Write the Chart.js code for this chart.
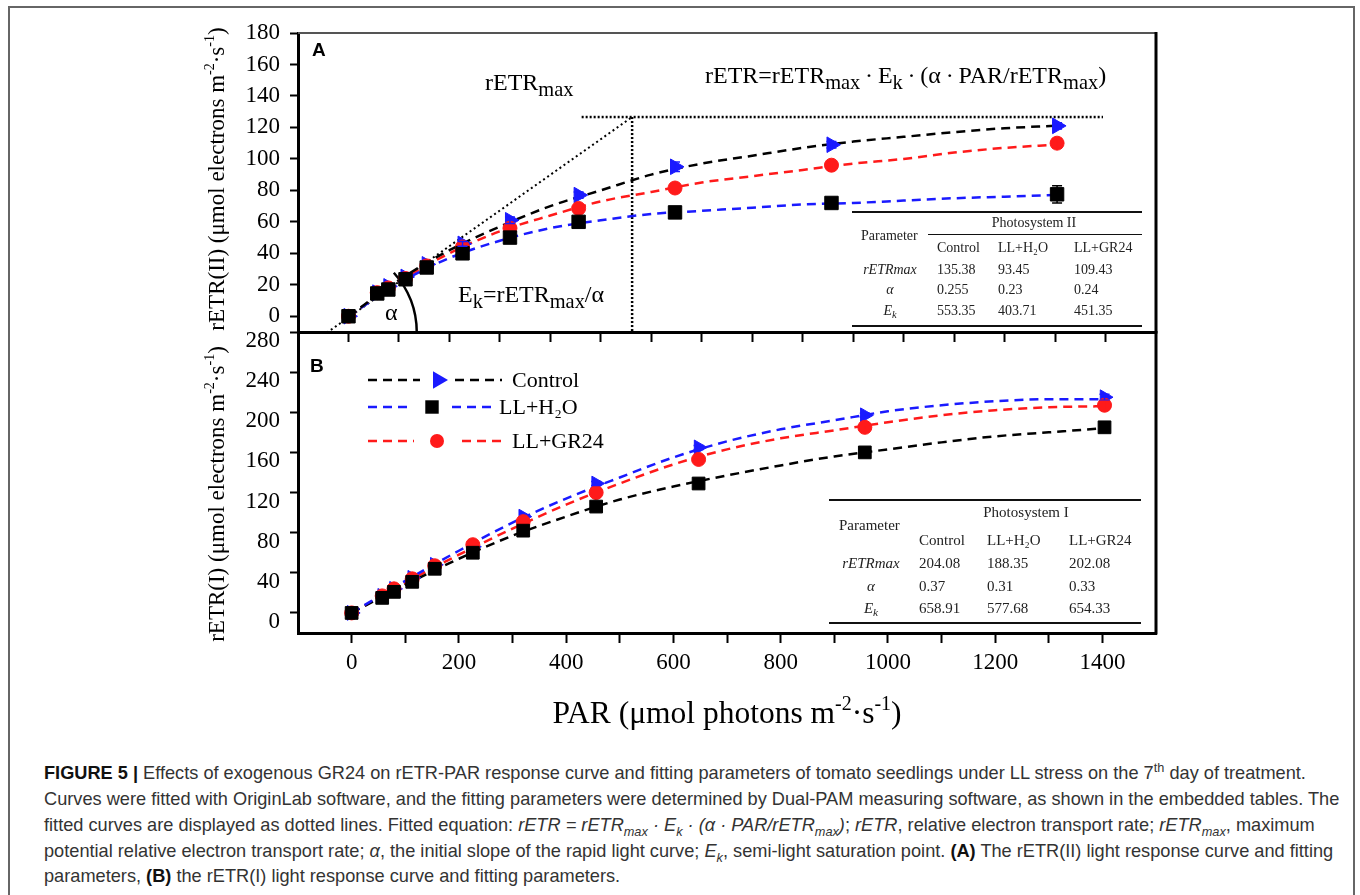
<!DOCTYPE html>
<html>
<head>
<meta charset="utf-8">
<title>rETR-PAR response curves</title>
<script src="https://cdn.jsdelivr.net/npm/chart.js@4.4.1/dist/chart.umd.min.js"></script>
<style>
  html, body { margin: 0; padding: 0; background: #fff; }
  body { position: relative; width: 1360px; height: 895px; overflow: hidden;
         font-family: "Liberation Serif", "DejaVu Serif", serif; color: #000; }
  #frame { position: absolute; left: 8px; top: 6px; width: 1343px; height: 910px; border: 2px solid #666; }
  canvas { position: absolute; left: 0; }
  #chartA { top: 0; z-index: 2; }
  #chartB { top: 300px; z-index: 1; }
  .lbl { position: absolute; white-space: nowrap; line-height: 1; z-index: 3; }
  .lbl sub { font-size: 0.85em; vertical-align: -0.3em; line-height: 0; }
  .panel { font-family: "Liberation Sans", Arial, sans-serif; font-weight: bold; font-size: 19px; }
  .eq { font-size: 24px; }
  .tb { position: absolute; white-space: nowrap; line-height: 1; color: #222; z-index: 3; }
  .tb sub { font-size: 0.75em; vertical-align: -0.25em; line-height: 0; }
  .rule { position: absolute; background: #111; z-index: 3; }
  .cap { position: absolute; left: 44px; white-space: nowrap; line-height: 1;
         font-family: "Liberation Sans", Arial, sans-serif; font-size: 18.2px; color: #333; }
  .cap sub, .cap sup { font-size: 0.7em; line-height: 0; }
  .cap b { color: #111; }
</style>
</head>
<body>
<div id="frame"></div>
<canvas id="chartA" width="1360" height="360"></canvas>
<canvas id="chartB" width="1360" height="440"></canvas>

<div class="lbl panel" style="left:312px;top:40px">A</div>
<div class="lbl panel" style="left:310px;top:356px">B</div>
<div class="lbl eq" style="left:485px;top:70px">rETR<sub>max</sub></div>
<div class="lbl eq" style="left:705px;top:63px">rETR=rETR<sub>max</sub>&thinsp;·&thinsp;E<sub>k</sub>&thinsp;·&thinsp;(α&thinsp;·&thinsp;PAR/rETR<sub>max</sub>)</div>
<div class="lbl eq" style="left:458px;top:282px">E<sub>k</sub>=rETR<sub>max</sub>/α</div>
<div class="lbl eq" style="left:385px;top:300px">α</div>

<div id="tables"></div>

<div class="cap" style="top:764px"><b>FIGURE 5 |</b> Effects of exogenous GR24 on rETR-PAR response curve and fitting parameters of tomato seedlings under LL stress on the 7<sup>th</sup> day of treatment.</div>
<div class="cap" style="top:790px">Curves were fitted with OriginLab software, and the fitting parameters were determined by Dual-PAM measuring software, as shown in the embedded tables. The</div>
<div class="cap" style="top:816px">fitted curves are displayed as dotted lines. Fitted equation: <i>rETR = rETR<sub>max</sub> · E<sub>k</sub> · (α · PAR/rETR<sub>max</sub>)</i>; <i>rETR</i>, relative electron transport rate; <i>rETR<sub>max</sub></i>, maximum</div>
<div class="cap" style="top:842px">potential relative electron transport rate; <i>α</i>, the initial slope of the rapid light curve; <i>E<sub>k</sub></i>, semi-light saturation point. <b>(A)</b> The rETR(II) light response curve and fitting</div>
<div class="cap" style="top:867px">parameters, <b>(B)</b> the rETR(I) light response curve and fitting parameters.</div>

<script>
'use strict';

// light steps used in the measurement (same for both panels)
const par = [0, 57, 79, 113, 155, 226, 320, 456, 647, 957, 1404];
const parFit = [0, 100, 200, 300, 400, 500, 600, 700, 800, 900, 1000, 1100, 1200, 1300, 1400];
const seriesNames = ['Control', 'LL+H₂O', 'LL+GR24'];

// panel A  rETR(II)
const ctrlA = [0, 15, 19, 25, 33, 46, 61, 77, 95, 109, 121];
const h2oA  = [0, 14.5, 17, 23.5, 31, 40, 50, 60, 66, 72, 77.5];
const gr24A = [0, 15, 18, 24, 32, 44, 56, 68.5, 81.5, 96, 110];
const ctrlErrA = [0, 0, 0, 0, 0, 1.5, 2, 2, 3, 2, 2];
const h2oErrA  = [0, 0, 0, 0, 0, 0, 0, 0, 0, 0, 5.5];
const gr24ErrA = [0, 0, 0, 0, 0, 0, 0, 0, 0, 2, 3];
const ctrlFitA = [0, 23, 42, 57, 70, 80, 90, 97, 102, 107, 111, 114, 117, 119.5, 121];
const h2oFitA  = [0, 21, 37, 48, 56, 61, 65, 67, 69, 71, 72, 73.5, 75, 76, 77];
const gr24FitA = [0, 22, 40, 54, 64, 73, 79, 85, 89, 93, 97, 100, 104, 107, 109];

// panel B  rETR(I)
const ctrlB = [0, 17, 24, 35, 48, 66, 96, 129, 165, 197, 215];
const h2oB  = [0, 15, 21, 31, 44, 60, 82, 106, 129, 160, 185];
const gr24B = [0, 17, 24, 34, 47, 68, 91, 120, 153, 185, 207];
const ctrlErrB = [0, 0, 0, 0, 0, 0, 0, 2, 2, 2, 3];
const h2oErrB  = [0, 0, 0, 0, 0, 0, 0, 0, 0, 0, 0];
const gr24ErrB = [0, 0, 0, 0, 0, 0, 0, 0, 2, 2, 4];
const ctrlFitB = [0, 32, 62, 90, 114, 135, 155, 171, 183, 192, 201, 207, 211, 213, 213];
const h2oFitB  = [0, 28, 54, 77, 96, 113, 126, 137, 147, 156, 163, 170, 176, 180, 184];
const gr24FitB = [0, 30, 58, 84, 108, 129, 148, 163, 174, 182, 190, 197, 202, 205, 206];

// ticks
const xTicksA = [0, 100, 200, 300, 400, 500, 600, 700, 800, 900, 1000, 1100, 1200, 1300, 1400, 1500];
const yTicksA = [0, 20, 40, 60, 80, 100, 120, 140, 160, 180];
const xTicksB = [0, 100, 200, 300, 400, 500, 600, 700, 800, 900, 1000, 1100, 1200, 1300, 1400];
const xLabelsB = [0, 200, 400, 600, 800, 1000, 1200, 1400];
const yTicksB = [0, 20, 40, 60, 80, 100, 120, 140, 160, 180, 200, 220, 240, 260, 280];
const yLabelsB = [0, 40, 80, 120, 160, 200, 240, 280];

// axis titles: plain text pieces, arrays are superscripts
const yTitleA = ['rETR(II) (μmol electrons m', ['-2'], '·s', ['-1'], ')'];
const yTitleB = ['rETR(I) (μmol electrons m', ['-2'], '·s', ['-1'], ')'];
const xTitleB = ['PAR (μmol photons m', ['-2'], '·s', ['-1'], ')'];

// fitting-parameter tables
const tableParams = ['<i>rETRmax</i>', '<i>α</i>', '<i>E<sub>k</sub></i>'];
const psIIValues = [['135.38', '93.45', '109.43'], ['0.255', '0.23', '0.24'], ['553.35', '403.71', '451.35']];
const psIValues  = [['204.08', '188.35', '202.08'], ['0.37', '0.31', '0.33'], ['658.91', '577.68', '654.33']];

// construction lines of panel A (data units)
const tangentA  = [[-43, -10.5], [562, 126.6]];
const rmaxLineA = [[462, 126.6], [1495, 126.6]];
const ekLineA   = [[562, 126.6], [562, -10]];

const FONT = '"Liberation Serif", "DejaVu Serif", serif';
const BLACK = '#000000';
const BLUE = '#1a1aff';
const RED = '#ff1a1a';

Chart.defaults.font.family = FONT;

function pts(xs, ys) {
  return ys.map((v, i) => ({ x: xs[i], y: v }));
}

function fitSet(ys, color) {
  return {
    data: pts(parFit, ys), showLine: true, borderColor: color, borderWidth: 2.5,
    borderDash: [9, 6], pointRadius: 0, cubicInterpolationMode: 'monotone', order: 10,
  };
}

function markSet(label, ys, errs, style, color, r, order) {
  return {
    label, data: pts(par, ys), showLine: false, pointStyle: style, pointRadius: r,
    pointRotation: style === 'triangle' ? 90 : 0, backgroundColor: color, borderColor: color,
    borderWidth: 1, errors: errs, order,
  };
}

function drawMarker(ctx, style, x, y, r, color) {
  ctx.fillStyle = color;
  ctx.beginPath();
  if (style === 'triangle') {
    ctx.moveTo(x + r, y);
    ctx.lineTo(x - r / 2, y - r * 0.866);
    ctx.lineTo(x - r / 2, y + r * 0.866);
    ctx.closePath();
  } else if (style === 'rect') {
    const s = r * 0.707;
    ctx.rect(x - s, y - s, 2 * s, 2 * s);
  } else {
    ctx.arc(x, y, r, 0, Math.PI * 2);
  }
  ctx.fill();
}

// text with raised small pieces, centred on (x, y)
function drawRich(ctx, parts, x, y, size, vertical) {
  const big = size + 'px ' + FONT;
  const small = Math.round(size * 0.62) + 'px ' + FONT;
  let total = 0;
  parts.forEach(p => {
    ctx.font = Array.isArray(p) ? small : big;
    total += ctx.measureText(Array.isArray(p) ? p[0] : p).width;
  });
  ctx.save();
  ctx.translate(x, y);
  if (vertical) ctx.rotate(-Math.PI / 2);
  ctx.fillStyle = '#000';
  ctx.textBaseline = 'alphabetic';
  let cx = -total / 2;
  const base = size * 0.33;
  parts.forEach(p => {
    const sup = Array.isArray(p);
    const t = sup ? p[0] : p;
    ctx.font = sup ? small : big;
    ctx.fillText(t, cx, sup ? base - size * 0.42 : base);
    cx += ctx.measureText(t).width;
  });
  ctx.restore();
}

const titlePlugin = {
  id: 'richTitles',
  afterDraw(chart, args, opts) {
    (opts.items || []).forEach(it => drawRich(chart.ctx, it.parts, it.x, it.y, it.size, it.vertical));
  }
};

const errorBarPlugin = {
  id: 'errorBars',
  afterDatasetsDraw(chart) {
    const { ctx, scales: { x, y } } = chart;
    chart.data.datasets.forEach(ds => {
      if (!ds.errors) return;
      ctx.save();
      ctx.strokeStyle = ds.borderColor;
      ctx.lineWidth = 1.5;
      ds.data.forEach((p, i) => {
        const e = ds.errors[i];
        if (!e) return;
        const px = x.getPixelForValue(p.x);
        const top = y.getPixelForValue(p.y + e);
        const bot = y.getPixelForValue(p.y - e);
        ctx.beginPath();
        ctx.moveTo(px, top); ctx.lineTo(px, bot);
        ctx.moveTo(px - 5, top); ctx.lineTo(px + 5, top);
        ctx.moveTo(px - 5, bot); ctx.lineTo(px + 5, bot);
        ctx.stroke();
      });
      ctx.restore();
    });
  }
};

const framePlugin = {
  id: 'frame',
  afterDraw(chart, args, opts) {
    const { ctx, chartArea: a } = chart;
    ctx.save();
    if (opts.top) {
      ctx.strokeStyle = opts.top;
      ctx.lineWidth = 2;
      ctx.beginPath(); ctx.moveTo(a.left, a.top); ctx.lineTo(a.right, a.top); ctx.stroke();
    }
    ctx.strokeStyle = '#000';
    ctx.lineWidth = 3;
    ctx.beginPath(); ctx.moveTo(a.right, a.top - 1); ctx.lineTo(a.right, a.bottom + 1.5); ctx.stroke();
    ctx.restore();
  }
};

const guidePlugin = {
  id: 'guides',
  beforeDatasetsDraw(chart) {
    const { ctx, chartArea: a, scales: { x, y } } = chart;
    const px = p => [x.getPixelForValue(p[0]), y.getPixelForValue(p[1])];
    const seg = line => {
      const p0 = px(line[0]), p1 = px(line[1]);
      ctx.beginPath(); ctx.moveTo(p0[0], p0[1]); ctx.lineTo(p1[0], p1[1]); ctx.stroke();
    };
    ctx.save();
    ctx.beginPath();
    ctx.rect(a.left, a.top, a.right - a.left, a.bottom - a.top);
    ctx.clip();
    ctx.strokeStyle = '#000';
    ctx.setLineDash([2, 3]);
    ctx.lineWidth = 2;
    seg(tangentA);
    ctx.setLineDash([2, 2]);
    ctx.lineWidth = 2.5;
    seg(rmaxLineA);
    seg(ekLineA);
    // angle mark for alpha
    const c = px(tangentA[0]);
    ctx.setLineDash([]);
    ctx.lineWidth = 2.5;
    ctx.beginPath();
    ctx.arc(c[0], c[1], 90, -0.73, 0);
    ctx.stroke();
    ctx.restore();
  }
};

const legendPlugin = {
  id: 'inlineLegend',
  afterDraw(chart, args, opts) {
    const ctx = chart.ctx;
    ctx.save();
    opts.rows.forEach(r => {
      ctx.strokeStyle = r.line;
      ctx.lineWidth = 2.5;
      ctx.setLineDash([9, 6]);
      ctx.beginPath();
      ctx.moveTo(368, r.y); ctx.lineTo(r.gap[0], r.y);
      ctx.moveTo(r.gap[1], r.y); ctx.lineTo(r.end, r.y);
      ctx.stroke();
      ctx.setLineDash([]);
      drawMarker(ctx, r.style, r.mx, r.y, r.size, r.fill);
      ctx.fillStyle = '#000';
      ctx.font = '22px ' + FONT;
      ctx.textBaseline = 'middle';
      ctx.fillText(r.label, r.tx, r.y + 1);
    });
    ctx.restore();
  }
};

function yScale(min, max, ticks, labels, labelOffset) {
  return {
    type: 'linear', min, max,
    afterBuildTicks: s => { s.ticks = ticks.map(v => ({ value: v })); },
    afterFit: s => { s.width = 95; },
    ticks: {
      color: '#000', padding: 10, labelOffset, font: { family: FONT, size: 23 },
      callback: v => labels.includes(v) ? String(v) : '',
    },
    grid: {
      drawOnChartArea: false, tickLength: 8, tickColor: '#000',
      tickWidth: c => (c.tick && labels.includes(c.tick.value)) ? 2 : 1.5,
    },
    border: { color: '#000', width: 3 },
  };
}

new Chart(document.getElementById('chartA'), {
  type: 'scatter',
  data: {
    datasets: [
      fitSet(ctrlFitA, BLACK),
      fitSet(h2oFitA, BLUE),
      fitSet(gr24FitA, RED),
      markSet(seriesNames[0], ctrlA, ctrlErrA, 'triangle', BLUE, 9, 3),
      markSet(seriesNames[2], gr24A, gr24ErrA, 'circle', RED, 7, 2),
      markSet(seriesNames[1], h2oA, h2oErrA, 'rect', BLACK, 9.5, 1),
    ]
  },
  options: {
    responsive: false,
    animation: false,
    layout: { padding: { left: 203, right: 204, top: 33, bottom: 16 } },
    plugins: {
      legend: { display: false },
      tooltip: { enabled: false },
      frame: { top: '#555' },
      richTitles: { items: [{ parts: yTitleA, x: 216, y: 179, size: 23, vertical: true }] },
    },
    scales: {
      x: {
        type: 'linear', min: -100, max: 1600,
        afterBuildTicks: s => { s.ticks = xTicksA.map(v => ({ value: v })); },
        afterFit: s => { s.height = 12; },
        ticks: { display: false },
        grid: { drawOnChartArea: false, tickLength: 10, tickWidth: 2, tickColor: '#000' },
        border: { color: '#000', width: 3 },
      },
      y: yScale(-10, 180, yTicksA, yTicksA, 0),
    }
  },
  plugins: [guidePlugin, errorBarPlugin, framePlugin, titlePlugin]
});

new Chart(document.getElementById('chartB'), {
  type: 'scatter',
  data: {
    datasets: [
      fitSet(ctrlFitB, BLUE),
      fitSet(h2oFitB, BLACK),
      fitSet(gr24FitB, RED),
      markSet(seriesNames[0], ctrlB, ctrlErrB, 'triangle', BLUE, 8.5, 3),
      markSet(seriesNames[2], gr24B, gr24ErrB, 'circle', RED, 7, 2),
      markSet(seriesNames[1], h2oB, h2oErrB, 'rect', BLACK, 9, 1),
    ]
  },
  options: {
    responsive: false,
    animation: false,
    layout: { padding: { left: 203, right: 204, top: 32, bottom: 0 } },
    plugins: {
      legend: { display: false },
      tooltip: { enabled: false },
      frame: {},
      richTitles: {
        items: [
          { parts: yTitleB, x: 216, y: 194, size: 23, vertical: true },
          { parts: xTitleB, x: 727, y: 413, size: 31.5, vertical: false },
        ]
      },
      inlineLegend: {
        rows: [
          { label: seriesNames[0], line: BLACK, style: 'triangle', fill: BLUE, size: 10, y: 80, mx: 438, gap: [420, 455], end: 502, tx: 512 },
          { label: seriesNames[1], line: BLUE, style: 'rect', fill: BLACK, size: 9.5, y: 107, mx: 432, gap: [412, 452], end: 495, tx: 499 },
          { label: seriesNames[2], line: RED, style: 'circle', fill: RED, size: 7, y: 141, mx: 437, gap: [414, 462], end: 505, tx: 512 },
        ]
      }
    },
    scales: {
      x: {
        type: 'linear', min: -100, max: 1500,
        afterBuildTicks: s => { s.ticks = xTicksB.map(v => ({ value: v })); },
        afterFit: s => { s.height = 107; },
        ticks: {
          color: '#000', padding: 6, maxRotation: 0, autoSkip: false, font: { family: FONT, size: 23 },
          callback: v => xLabelsB.includes(v) ? String(v) : '',
        },
        grid: { drawOnChartArea: false, tickLength: 10, tickWidth: 2, tickColor: '#000' },
        border: { color: '#000', width: 3 },
      },
      y: yScale(-20, 280, yTicksB, yLabelsB, 9),
    }
  },
  plugins: [errorBarPlugin, framePlugin, legendPlugin, titlePlugin]
});

// embedded parameter tables
function addText(html, cls, left, top, extra) {
  const el = document.createElement('div');
  el.className = cls;
  el.innerHTML = html;
  el.style.left = left + 'px';
  el.style.top = top + 'px';
  if (extra) Object.assign(el.style, extra);
  document.getElementById('tables').appendChild(el);
  return el;
}

function addRule(x1, x2, y, w) {
  const el = addText('', 'rule', x1, y - w / 2);
  el.style.width = (x2 - x1) + 'px';
  el.style.height = w + 'px';
}

function buildTable(t, values) {
  const half = t.size / 2;
  const font = { fontSize: t.size + 'px' };
  addRule(t.left, t.right, t.top, 1.5);
  if (t.mid) addRule(t.mid, t.right, t.midY, 1);
  addRule(t.left, t.right, t.bottom, 1.5);
  addText('Parameter', 'tb', t.paramX, t.paramY - half, font);
  addText(t.title, 'tb', t.titleX, t.titleY - half, Object.assign({ transform: 'translateX(-50%)' }, font));
  seriesNames.forEach((g, j) => addText(g, 'tb', t.cols[j], t.headY - half, font));
  tableParams.forEach((p, i) => {
    addText(p, 'tb', t.nameX, t.rows[i] - half, Object.assign({ transform: 'translateX(-50%)' }, font));
    values[i].forEach((v, j) => addText(v, 'tb', t.cols[j], t.rows[i] - half, font));
  });
}

buildTable({
  size: 14, left: 852, right: 1142, top: 212, mid: 928, midY: 234, bottom: 326,
  paramX: 861, paramY: 236, title: 'Photosystem II', titleX: 1034, titleY: 223,
  headY: 248, cols: [937, 998, 1074], rows: [270, 290, 311], nameX: 890,
}, psIIValues);

buildTable({
  size: 15, left: 829, right: 1141, top: 500, bottom: 623,
  paramX: 839, paramY: 525, title: 'Photosystem I', titleX: 1026, titleY: 512,
  headY: 540, cols: [919, 987, 1069], rows: [563, 586, 608], nameX: 871,
}, psIValues);
</script>
</body>
</html>
